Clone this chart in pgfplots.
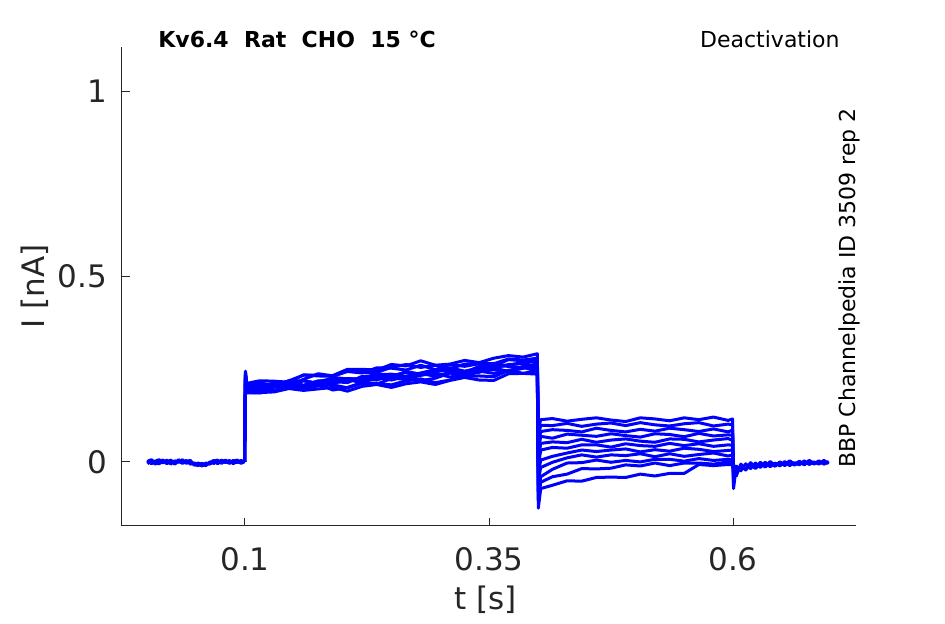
\documentclass[border=0pt]{standalone}
\usepackage{pgfplots}
\pgfplotsset{compat=1.18}
\usepackage{pgfplotstable}
\usepackage{fontspec}
\setmainfont{DejaVu Sans}
\definecolor{txt}{HTML}{262626}
\definecolor{tr}{RGB}{0,0,255}
\pgfplotsset{trace/.style={color=tr, solid, line width=1.5pt, line join=round, mark=none}}

\pgfplotstableread{
t b1 b2 b3
0.000 0.004 -0.005 0.001
0.004 -0.005 0.004 0.006
0.008 0.002 -0.006 -0.002
0.012 0.006 0.001 -0.005
0.016 -0.003 0.005 0.002
0.020 0.005 -0.005 0.000
0.024 -0.006 0.002 0.005
0.028 0.003 -0.004 -0.006
0.032 -0.001 0.006 0.002
0.036 0.006 -0.002 -0.004
0.040 -0.004 0.004 0.001
0.044 0.002 -0.006 0.004
0.048 -0.007 -0.003 -0.009
0.052 -0.010 -0.006 -0.003
0.056 -0.004 -0.011 -0.007
0.060 -0.008 -0.003 -0.010
0.064 -0.002 -0.006 0.000
0.068 0.004 0.002 -0.004
0.072 -0.005 0.005 0.001
0.076 0.005 -0.004 -0.001
0.080 -0.002 0.003 0.005
0.084 0.004 -0.004 -0.003
0.088 -0.005 0.002 0.004
0.092 0.003 0.005 -0.002
0.096 -0.004 -0.002 0.004
0.0995 0.002 0.000 -0.001
}\base

\pgfplotstableread{
t T1 T2 T3 T4 T5 T6 T7 T8 T9 T10 T11
0.0995 0 0 0 0 0 0 0 0 0 0 0
0.1005 0.245 0.235 0.225 0.240 0.215 0.230 0.205 0.220 0.235 0.210 0.225
0.102 0.208 0.203 0.212 0.196 0.202 0.206 0.188 0.199 0.203 0.194 0.186
0.115 0.213 0.201 0.219 0.194 0.205 0.210 0.186 0.197 0.205 0.190 0.187
0.130 0.207 0.213 0.218 0.210 0.203 0.205 0.194 0.205 0.212 0.202 0.189
0.145 0.219 0.205 0.215 0.208 0.218 0.219 0.200 0.214 0.205 0.205 0.198
0.160 0.234 0.223 0.235 0.206 0.207 0.219 0.199 0.204 0.219 0.202 0.193
0.175 0.234 0.238 0.232 0.219 0.217 0.212 0.205 0.215 0.212 0.210 0.197
0.190 0.233 0.232 0.231 0.217 0.225 0.228 0.208 0.214 0.210 0.194 0.201
0.205 0.250 0.248 0.244 0.214 0.220 0.224 0.200 0.223 0.225 0.201 0.191
0.220 0.250 0.242 0.240 0.231 0.219 0.224 0.212 0.213 0.223 0.214 0.204
0.235 0.248 0.242 0.254 0.232 0.235 0.239 0.210 0.228 0.221 0.211 0.209
0.250 0.263 0.255 0.253 0.228 0.237 0.232 0.225 0.221 0.234 0.208 0.201
0.265 0.259 0.263 0.248 0.244 0.231 0.242 0.224 0.231 0.223 0.219 0.211
0.280 0.273 0.255 0.261 0.237 0.240 0.234 0.219 0.239 0.234 0.224 0.216
0.295 0.261 0.261 0.249 0.246 0.249 0.243 0.226 0.231 0.239 0.214 0.209
0.310 0.264 0.252 0.263 0.254 0.243 0.250 0.240 0.241 0.229 0.221 0.220
0.325 0.274 0.264 0.258 0.245 0.241 0.240 0.231 0.234 0.237 0.231 0.228
0.340 0.268 0.266 0.265 0.253 0.258 0.248 0.246 0.242 0.245 0.232 0.221
0.355 0.280 0.265 0.260 0.266 0.253 0.260 0.249 0.254 0.239 0.230 0.220
0.370 0.287 0.278 0.276 0.259 0.263 0.258 0.244 0.244 0.247 0.247 0.238
0.385 0.283 0.275 0.273 0.271 0.265 0.253 0.258 0.253 0.255 0.239 0.239
0.3995 0.292 0.280 0.276 0.271 0.259 0.266 0.252 0.261 0.245 0.246 0.237
0.4005 0.090 0.070 0.050 0.030 0.010 -0.010 -0.030 -0.050 -0.080 -0.100 -0.125
0.403 0.114 0.099 0.082 0.069 0.050 0.032 0.005 -0.015 -0.040 -0.055 -0.072
0.415 0.117 0.098 0.087 0.064 0.054 0.039 0.015 -0.001 -0.020 -0.040 -0.063
0.430 0.110 0.104 0.085 0.075 0.052 0.037 0.024 0.011 -0.003 -0.033 -0.051
0.445 0.115 0.096 0.081 0.072 0.061 0.046 0.032 0.019 -0.002 -0.018 -0.052
0.460 0.119 0.102 0.091 0.069 0.053 0.046 0.028 0.013 0.005 -0.019 -0.042
0.475 0.113 0.105 0.085 0.076 0.059 0.040 0.032 0.019 -0.001 -0.017 -0.041
0.490 0.109 0.098 0.081 0.071 0.062 0.049 0.035 0.017 0.004 -0.008 -0.042
0.505 0.119 0.106 0.088 0.067 0.056 0.044 0.027 0.022 0.000 -0.011 -0.033
0.520 0.116 0.100 0.083 0.076 0.053 0.042 0.033 0.014 0.007 -0.003 -0.038
0.535 0.111 0.097 0.091 0.074 0.062 0.050 0.029 0.022 0.007 -0.010 -0.031
0.550 0.119 0.103 0.087 0.068 0.061 0.044 0.037 0.015 0.002 -0.003 -0.031
0.565 0.114 0.106 0.082 0.077 0.054 0.049 0.034 0.020 0.009 -0.003 -0.007
0.580 0.121 0.097 0.089 0.070 0.059 0.042 0.028 0.024 0.004 -0.006 -0.010
0.595 0.112 0.102 0.081 0.073 0.063 0.046 0.031 0.016 0.007 0.000 -0.007
0.5995 0.116 0.100 0.086 0.072 0.058 0.045 0.032 0.019 0.005 -0.003 -0.008
0.6005 -0.072 -0.060 -0.050 -0.045 -0.040 -0.035 -0.030 -0.028 -0.025 -0.020 -0.018
0.603 -0.020 -0.010 -0.025 -0.015 -0.018 -0.012 -0.022 -0.008 -0.016 -0.014 -0.010
}\main

\pgfplotstableread{
t c1 c2 c3
0.603 -0.025 -0.010 -0.040
0.608 -0.010 -0.024 -0.006
0.613 -0.022 -0.005 -0.020
0.618 -0.006 -0.018 -0.002
0.623 -0.018 -0.003 -0.014
0.628 -0.004 -0.015 -0.001
0.633 -0.014 -0.001 -0.012
0.638 -0.002 -0.013 0.001
0.643 -0.012 -0.003 -0.009
0.648 0.000 -0.011 -0.001
0.653 -0.010 0.001 -0.008
0.658 0.001 -0.010 0.003
0.663 -0.009 -0.002 -0.006
0.668 0.002 -0.008 0.001
0.673 -0.008 0.003 -0.007
0.678 0.003 -0.007 0.004
0.683 -0.006 0.000 -0.004
0.688 0.003 -0.006 0.001
0.693 -0.006 0.004 -0.005
0.698 -0.001 -0.004 0.001
}\tail

\begin{document}
\begin{tikzpicture}
\path[use as bounding box] (-61pt,-49pt) rectangle (411.5pt,263pt);
\begin{axis}[
  at={(0,0)}, anchor=south west,
  width=367pt, height=239.5pt, scale only axis,
  xmin=-0.026, xmax=0.726, ymin=-0.173, ymax=1.12,
  axis lines*=left,
  axis line style={txt, line width=0.5pt, -},
  xtick={0.1,0.35,0.6}, xticklabels={0.1,0.35,0.6},
  ytick={0,0.5,1}, yticklabels={0,0.5,1},
  tick align=inside, major tick length=4pt,
  tick style={txt, line width=0.5pt},
  ticklabel style={font=\fontsize{15.5}{18}\selectfont, text=txt},
  xticklabel style={yshift=-7pt},
  yticklabel style={xshift=-4pt},
  xlabel={t [s]}, ylabel={I [nA]},
  label style={font=\fontsize{15.5}{18}\selectfont, text=txt},
  xlabel style={at={(axis description cs:0.495,-0.1545)}, anchor=center},
  ylabel style={at={(axis description cs:-0.1185,0.5)}, anchor=center},
]
\addplot[trace] table[x=t,y=b1]{\base};
\addplot[trace] table[x=t,y=b2]{\base};
\addplot[trace] table[x=t,y=b3]{\base};
\addplot[trace] table[x=t,y=T1]{\main};
\addplot[trace] table[x=t,y=T2]{\main};
\addplot[trace] table[x=t,y=T3]{\main};
\addplot[trace] table[x=t,y=T4]{\main};
\addplot[trace] table[x=t,y=T5]{\main};
\addplot[trace] table[x=t,y=T6]{\main};
\addplot[trace] table[x=t,y=T7]{\main};
\addplot[trace] table[x=t,y=T8]{\main};
\addplot[trace] table[x=t,y=T9]{\main};
\addplot[trace] table[x=t,y=T10]{\main};
\addplot[trace] table[x=t,y=T11]{\main};
\addplot[trace] table[x=t,y=c1]{\tail};
\addplot[trace] table[x=t,y=c2]{\tail};
\addplot[trace] table[x=t,y=c3]{\tail};
\end{axis}
\node[anchor=west, inner sep=0pt, font=\bfseries\fontsize{11}{13}\selectfont] at (18pt,243.5pt) {Kv6.4\ \ Rat\ \ CHO\ \ 15 °C};
\node[anchor=east, inner sep=0pt, font=\fontsize{11}{13}\selectfont] at (359pt,243.5pt) {Deactivation};
\node[rotate=90, anchor=west, inner sep=0pt, font=\fontsize{11}{13}\selectfont] at (363.5pt,29pt) {BBP Channelpedia ID 3509 rep 2};
\end{tikzpicture}
\end{document}
